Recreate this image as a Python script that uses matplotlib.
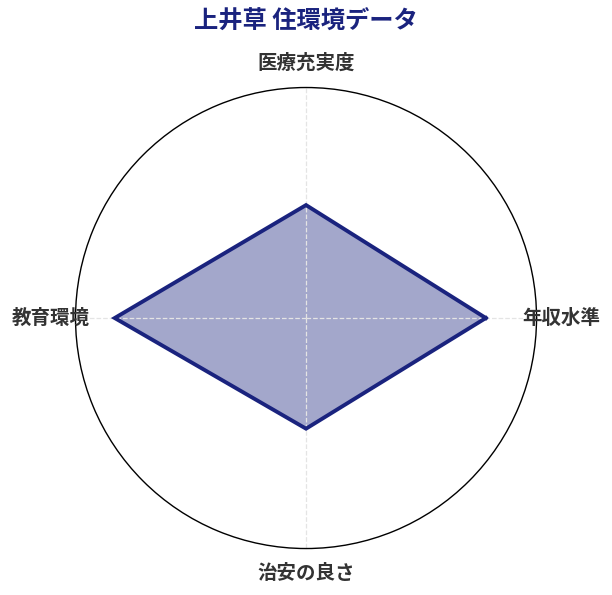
import numpy as np
import matplotlib
matplotlib.use("Agg")
import matplotlib.pyplot as plt

plt.rcParams['font.family'] = ['Noto Sans CJK JP', 'DejaVu Sans']

# data
categories = ['年収水準', '医療充実度', '教育環境', '治安の良さ']
values = [78, 49, 83, 48]
r_max = 100
title = '上井草 住環境データ'

navy = '#1a237e'

angles = np.linspace(0, 2 * np.pi, len(categories), endpoint=False)
ang_closed = np.append(angles, angles[0])
val_closed = np.append(values, values[0])

fig = plt.figure(figsize=(6.12, 5.95), dpi=100)
ax = fig.add_axes([0.1234, 0.0781, 0.7533, 0.7748], projection='polar')

ax.fill(ang_closed, val_closed, color=navy, alpha=0.4, lw=0, zorder=1)
ax.plot(ang_closed, val_closed, color=navy, lw=2.8, solid_joinstyle='miter', zorder=3)

ax.set_ylim(0, r_max)
ax.set_yticks([])
ax.set_xticks(angles)
ax.set_xticklabels([])
ax.grid(True, color='#e4e4e4', linestyle='--', linewidth=0.9, zorder=2)
ax.yaxis.grid(False)
ax.spines['polar'].set_color('black')
ax.spines['polar'].set_linewidth(1.0)

for a, lab in zip(angles, categories):
    ax.text(a, r_max * 1.107, lab, ha='center', va='center', fontsize=14,
            fontweight='bold', color='#333333', clip_on=False)

fig.text(0.5, 0.964, title, ha='center', va='center', fontsize=17.5,
         fontweight='bold', color=navy)

fig.savefig('out.png', dpi=100)
